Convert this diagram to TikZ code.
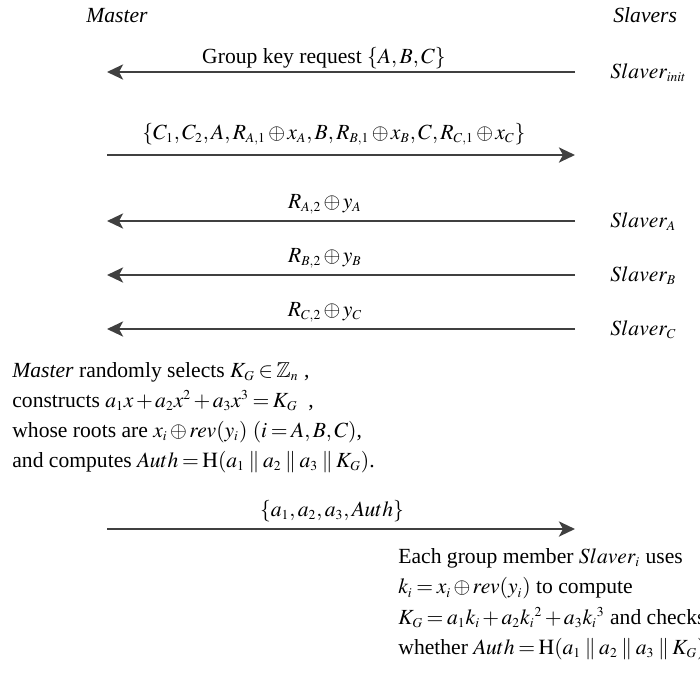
\documentclass[tikz,border=0pt]{standalone}
\usepackage{amssymb}
\usepackage{mathptmx}
\usepackage{fontspec}
\setmainfont{Liberation Serif}
\usetikzlibrary{arrows.meta}
\definecolor{arrowgray}{RGB}{64,64,64}
\DeclareMathSizes{10.8}{10.8}{6.8}{5.4}
\medmuskip=2mu plus 2mu minus 2mu
\thickmuskip=3mu plus 3mu

\begin{document}
\begin{tikzpicture}[x=0.5pt,y=-0.5pt,font=\fontsize{10.8}{15}\selectfont,
	msg/.style={draw=arrowgray,line width=1.4pt,-{Stealth[length=8pt,width=7.5pt,inset=2pt]}},
	lbl/.style={anchor=base,inner sep=0pt},
	party/.style={anchor=base west,inner sep=0pt}]
	\useasboundingbox (0,0) rectangle (700,675);
	% ends of the message arrows
	\coordinate (m_req) at (107,72);
	\coordinate (s_req) at (575,72);
	\coordinate (m_ch) at (107,155);
	\coordinate (s_ch) at (575,155);
	\coordinate (m_a) at (107,221);
	\coordinate (s_a) at (575,221);
	\coordinate (m_b) at (107,275);
	\coordinate (s_b) at (575,275);
	\coordinate (m_c) at (107,329);
	\coordinate (s_c) at (575,329);
	\coordinate (m_key) at (107,529);
	\coordinate (s_key) at (575,529);
	
	\node[party] (master) at (86,22) {\textit{Master}};
	\node[party] (slavers) at (613,22) {\textit{Slavers}};
	\node[party] (sl_init) at (610,78) {$Slaver_{init}$};
	\node[party] (sl_a) at (610,227) {$Slaver_A$};
	\node[party] (sl_b) at (610,281) {$Slaver_B$};
	\node[party] (sl_c) at (610,335) {$Slaver_C$};
	
	\draw[msg] (s_req) -- (m_req);
	\draw[msg] (m_ch) -- (s_ch);
	\draw[msg] (s_a) -- (m_a);
	\draw[msg] (s_b) -- (m_b);
	\draw[msg] (s_c) -- (m_c);
	\draw[msg] (m_key) -- (s_key);
	
	\node[lbl] (t_req) at (324,63) {Group key request $\{A,B,C\}$};
	\node[lbl] (t_ch) at (334,139) {$\{C_1,C_2,A,R_{A,1}\oplus x_A,B,R_{B,1}\oplus x_B,C,R_{C,1}\oplus x_C\}$};
	\node[lbl] (t_a) at (325,208) {$R_{A,2}\oplus y_A$};
	\node[lbl] (t_b) at (325,262) {$R_{B,2}\oplus y_B$};
	\node[lbl] (t_c) at (325,316) {$R_{C,2}\oplus y_C$};
	\node[lbl] (t_key) at (332,516) {$\{a_1,a_2,a_3,Auth\}$};
	
	\node[anchor=north west,inner sep=0pt,align=left] (gen) at (12,362)
	{\textit{Master} randomly selects $K_G\in\mathbb{Z}_n$\ ,\\
	constructs $a_1x+a_2x^2+a_3x^3=K_G$\ \ ,\\
	whose roots are $x_i\oplus rev(y_i)$ $(i=A,B,C)$,\\
	and computes $Auth=\mathrm{H}(a_1\parallel a_2\parallel a_3\parallel K_G)$.};
	
	\node[anchor=north west,inner sep=0pt,align=left,font=\fontsize{10.8}{15.2}\selectfont] (check) at (398,548)
	{Each group member $Slaver_i$ uses\\
	$k_i=x_i\oplus rev(y_i)$ to compute\\
	$K_G=a_1k_i+a_2k_i{}^2+a_3k_i{}^3$ and checks\\
	whether $Auth=\mathrm{H}(a_1\parallel a_2\parallel a_3\parallel K_G)$};
\end{tikzpicture}
\end{document}
